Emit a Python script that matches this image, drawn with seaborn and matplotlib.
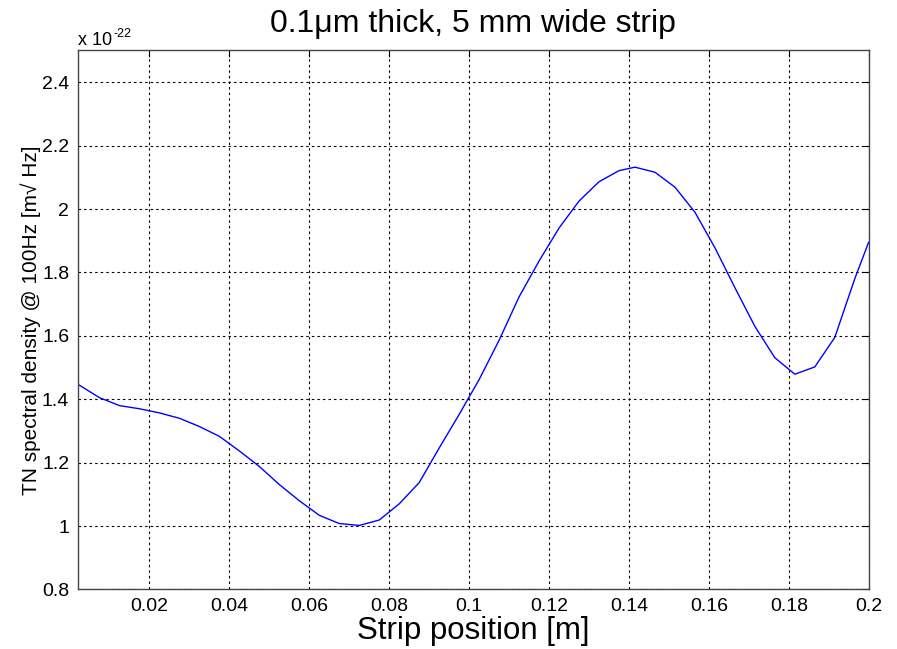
import matplotlib
matplotlib.use("Agg")
import matplotlib.pyplot as plt
import seaborn as sns
import pandas as pd
from matplotlib.transforms import offset_copy

# Data (TN spectral density in units of 1e-22)
position = [0.002, 0.0075, 0.0125, 0.0175, 0.0225, 0.0275, 0.0325, 0.0375, 0.0425,
            0.0475, 0.0525, 0.0575, 0.0625, 0.0675, 0.0725, 0.0775, 0.0825, 0.0875,
            0.0925, 0.0975, 0.1025, 0.1075, 0.1125, 0.1175, 0.1225, 0.1275, 0.1325,
            0.1375, 0.1415, 0.1465, 0.1515, 0.1565, 0.1615, 0.1665, 0.1715, 0.1765,
            0.1815, 0.1865, 0.1915, 0.1965, 0.2]
density = [1.448, 1.405, 1.380, 1.370, 1.357, 1.340, 1.314, 1.283, 1.237,
           1.188, 1.131, 1.080, 1.034, 1.008, 1.002, 1.019, 1.070, 1.137,
           1.246, 1.352, 1.462, 1.586, 1.723, 1.836, 1.940, 2.025, 2.086,
           2.121, 2.132, 2.116, 2.069, 1.990, 1.878, 1.752, 1.630, 1.531,
           1.479, 1.502, 1.595, 1.780, 1.896]
xticks = [0.02, 0.04, 0.06, 0.08, 0.1, 0.12, 0.14, 0.16, 0.18, 0.2]
xtick_labels = ["0.02", "0.04", "0.06", "0.08", "0.1", "0.12", "0.14", "0.16", "0.18", "0.2"]
yticks = [0.8, 1.0, 1.2, 1.4, 1.6, 1.8, 2.0, 2.2, 2.4]
ytick_labels = ["0.8", "1", "1.2", "1.4", "1.6", "1.8", "2", "2.2", "2.4"]

df = pd.DataFrame({"position": position, "density": density})

sns.set_style("white")
plt.rcParams['font.family'] = ['Liberation Sans', 'DejaVu Sans']
plt.rcParams['text.color'] = 'black'
plt.rcParams['axes.labelcolor'] = 'black'
plt.rcParams['xtick.color'] = 'black'
plt.rcParams['ytick.color'] = 'black'

fig = plt.figure(figsize=(8.97, 6.49), dpi=100)
ax = fig.add_axes([0.0864, 0.0917, 0.8821, 0.8305])

sns.lineplot(data=df, x="position", y="density", ax=ax, color="#0000ff",
             linewidth=1.0, sort=False)

ax.set_xlim(0.002, 0.2)
ax.set_ylim(0.8, 2.5)
ax.set_xticks(xticks)
ax.set_xticklabels(xtick_labels)
ax.set_yticks(yticks)
ax.set_yticklabels(ytick_labels)

ax.grid(True, color="black", linestyle=(0, (2.2, 2.8)), linewidth=0.8)
ax.tick_params(direction="in", length=5, width=0.8, labelsize=14, colors="black",
               top=True, right=True, pad=6)
for s in ax.spines.values():
    s.set_color("#444444")
    s.set_linewidth(1.0)
    s.set_visible(True)

ax.set_xlabel("Strip position [m]", fontsize=22.5, labelpad=1)
ax.set_ylabel("TN spectral density @ 100Hz [m\u221a Hz]", fontsize=15, labelpad=1)
ax.set_title("0.1\u03bcm thick, 5 mm wide strip", fontsize=23, pad=13, color="black")

t1 = ax.text(0.0, 1.01, "x 10", transform=ax.transAxes, fontsize=13,
             ha="left", va="baseline")
fig.canvas.draw()
bb = t1.get_window_extent()
tr = offset_copy(ax.transAxes, fig=fig, x=bb.width * 72 / fig.dpi + 1, y=6, units="points")
ax.text(0.0, 1.01, "-22", transform=tr, fontsize=9, ha="left", va="baseline")

fig.savefig("out.png", dpi=100, facecolor="white")
